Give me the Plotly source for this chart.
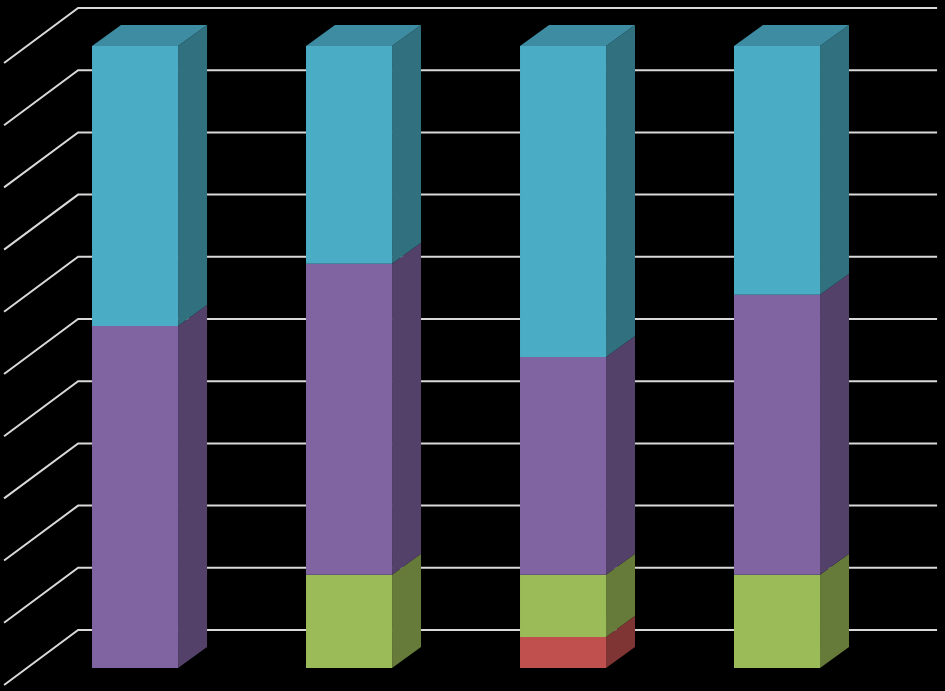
import plotly.graph_objects as go

# 100% stacked columns, bottom to top
groups = ['A', 'B', 'C', 'D']
red = [0, 0, 5, 0]
green = [0, 15, 10, 15]
purple = [55, 50, 35, 45]
cyan = [45, 35, 50, 40]
grid_vals = [0, 10, 20, 30, 40, 50, 60, 70, 80, 90, 100]

series = [
    ('red', red, '#C0504D', '#7E3533', None),
    ('green', green, '#9BBB59', '#667A3A', None),
    ('purple', purple, '#8064A2', '#53416A', None),
    ('cyan', cyan, '#4BACC6', '#31707F', '#3D8CA1'),
]

bw = 0.402      # bar width
dx, dy = 0.1355, 3.38   # fake depth of the bars
gf, gb = -2.73, 6.11    # front / back offset of the floor grid
xf, xb, xr = -0.612, -0.266, 3.748

fig = go.Figure()

# back wall + left wall grid, kept under the bars
for v in grid_vals:
    fig.add_shape(type='path', layer='below', xref='x', yref='y',
                  path=f'M {xf},{v + gf} L {xb},{v + gb} L {xr},{v + gb}',
                  line=dict(color='#D9D9D9', width=2))

xs = list(range(len(groups)))
base = [0] * len(groups)
for name, vals, front, side, top in series:
    fig.add_trace(go.Bar(x=xs, y=vals, base=base, width=bw, marker_color=front,
                         marker_line_width=0, name=name, showlegend=False))
    for i, v in enumerate(vals):
        if v == 0:
            continue
        y0, y1 = base[i], base[i] + v
        r = i + bw / 2
        fig.add_trace(go.Scatter(x=[r, r + dx, r + dx, r, r], y=[y0, y0 + dy, y1 + dy, y1, y0],
                                 fill='toself', fillcolor=side, mode='lines', line=dict(width=0),
                                 hoverinfo='skip', showlegend=False))
        if top:
            l = i - bw / 2
            fig.add_trace(go.Scatter(x=[l, l + dx, r + dx, r, l], y=[y1, y1 + dy, y1 + dy, y1, y1],
                                     fill='toself', fillcolor=top, mode='lines', line=dict(width=0),
                                     hoverinfo='skip', showlegend=False))
    base = [b + v for b, v in zip(base, vals)]

fig.update_layout(width=945, height=691, margin=dict(l=0, r=0, t=0, b=0),
                  paper_bgcolor='black', plot_bgcolor='black', barmode='overlay',
                  xaxis=dict(range=[-0.631, 3.785], visible=False, fixedrange=True),
                  yaxis=dict(range=[-3.70, 107.40], visible=False, fixedrange=True))

fig.write_html("out.html", config={'displayModeBar': False},
               post_script="document.body.style.margin='0';document.body.style.background='black';")
